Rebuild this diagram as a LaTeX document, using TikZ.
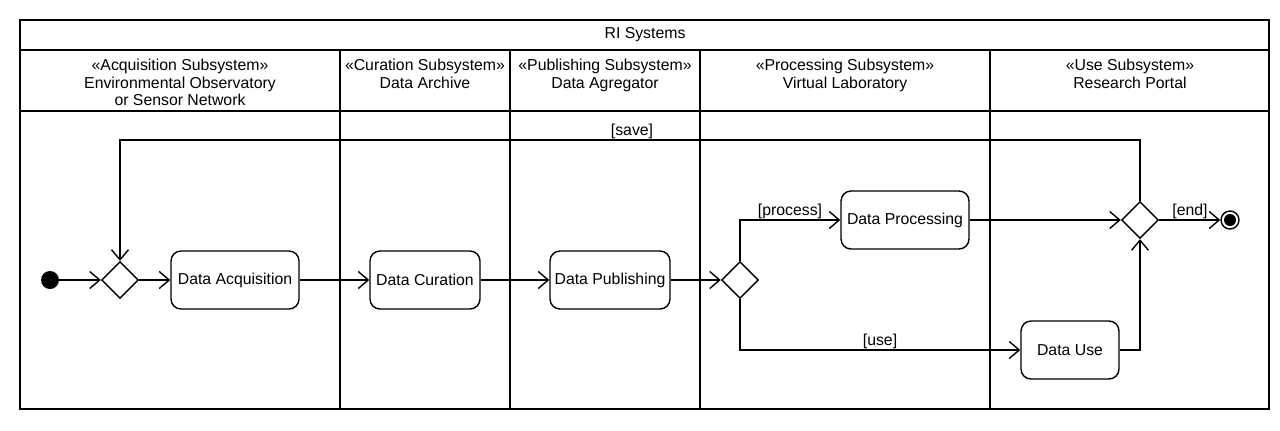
\documentclass[tikz,border=0pt]{standalone}
\usepackage{fontspec}
\setmainfont{Liberation Sans}
\usepackage{tikz}
\usetikzlibrary{shapes.geometric, arrows.meta, positioning}

\begin{document}
\begin{tikzpicture}[
    x=0.02cm, y=-0.02cm,
    font=\fontsize{9}{10}\selectfont,
    action/.style={rectangle, rounded corners=0.2cm, draw, line width=0.8pt, minimum height=1.16cm, inner sep=2pt},
    decision/.style={diamond, draw, line width=0.8pt, minimum size=0.74cm, inner sep=0pt},
    initial/.style={circle, fill=black, minimum size=0.36cm, inner sep=0pt},
    final/.style={circle, draw, line width=0.8pt, minimum size=0.36cm, inner sep=0pt,
        path picture={\fill (path picture bounding box.center) circle (0.12cm);}},
    header/.style={anchor=north, align=center, inner sep=0pt},
    guard/.style={inner sep=1pt},
    lane/.style={line width=1.6pt},
    arrow/.style={-{Straight Barb[length=0.2cm, width=0.34cm, line width=0.8pt]}, line width=0.8pt}
]
    \useasboundingbox (0,0) rectangle (1280,430);

    % Frame and swimlanes
    \draw[line width=1pt] (20,20) rectangle (1269,409);
    \draw[line width=1pt] (20,50) -- (1269,50);
    \draw[line width=1pt] (20,111) -- (1269,111);
    \foreach \x in {340, 510, 700, 990}
        \draw[lane] (\x,50) -- (\x,409);

    % Titles
    \node (title) at (645,35) {RI Systems};
    \node[header] (acqlane) at (180,59) {«Acquisition Subsystem»\\Environmental Observatory\\or Sensor Network};
    \node[header] (curlane) at (425,59) {«Curation Subsystem»\\Data Archive};
    \node[header] (publane) at (605,59) {«Publishing Subsystem»\\Data Agregator};
    \node[header] (proclane) at (845,59) {«Processing Subsystem»\\Virtual Laboratory};
    \node[header] (uselane) at (1130,59) {«Use Subsystem»\\Research Portal};

    % Activities
    \node[initial] (start) at (50,280) {};
    \node[decision] (dec1) at (120,280) {};
    \node[action, minimum width=2.56cm] (acq) at (235,280) {Data Acquisition};
    \node[action, minimum width=2.2cm] (cur) at (425,280) {Data Curation};
    \node[action, minimum width=2.4cm] (pub) at (610,280) {Data Publishing};
    \node[decision] (dec2) at (740,280) {};
    \node[action, minimum width=2.56cm] (proc) at (905,220) {Data Processing};
    \node[action, minimum width=1.96cm] (use) at (1070,350) {Data Use};
    \node[decision] (dec3) at (1140,220) {};
    \node[final] (stop) at (1230,220) {};

    % Guards
    \node[guard] (gsave) at (632,131) {[save]};
    \node[guard] (gproc) at (790,211) {[process]};
    \node[guard] (guse) at (880,341) {[use]};
    \node[guard] (gend) at (1190,211) {[end]};

    % Flow
    \draw[arrow] (start) -- (dec1);
    \draw[arrow] (dec1) -- (acq);
    \draw[arrow] (acq) -- (cur);
    \draw[arrow] (cur) -- (pub);
    \draw[arrow] (pub) -- (dec2);
    \draw[arrow] (dec2.north) |- (proc.west);
    \draw[arrow] (dec2.south) |- (use.west);
    \draw[arrow] (proc) -- (dec3);
    \draw[arrow] (use.east) -| (dec3.south);
    \draw[arrow] (dec3) -- (stop);

    % Loop back
    \coordinate (loop) at (1140,140);
    \draw[arrow] (dec3.north) -- (loop) -| (dec1.north);
\end{tikzpicture}
\end{document}
